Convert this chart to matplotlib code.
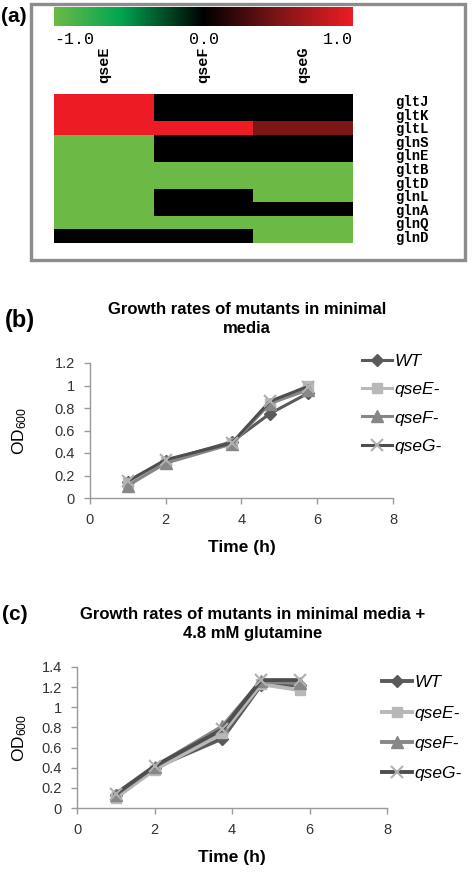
import matplotlib
matplotlib.use('Agg')
import matplotlib.pyplot as plt
import numpy as np
from matplotlib.colors import LinearSegmentedColormap
from matplotlib.patches import Rectangle
from matplotlib.cm import ScalarMappable
from matplotlib.colors import Normalize

plt.rcParams['font.family'] = 'Liberation Sans'
plt.rcParams['mathtext.fontset'] = 'custom'
plt.rcParams['mathtext.rm'] = 'Liberation Sans'
plt.rcParams['mathtext.default'] = 'regular'

W, H = 472, 877

# ---- data: panel (a) heatmap ----
genes = ['gltJ', 'gltK', 'gltL', 'glnS', 'glnE', 'gltB', 'gltD', 'glnL', 'glnA', 'glnQ', 'glnD']
mutants = ['qseE', 'qseF', 'qseG']
qseE_vals = [1, 1, 1, -1, -1, -1, -1, -1, -1, -1, 0]
qseF_vals = [0, 0, 1, 0, 0, -1, -1, 0, 0, -1, 0]
qseG_vals = [0, 0, 0.5, 0, 0, -1, -1, -1, 0, -1, -1]

# ---- data: panels (b) and (c) growth curves ----
time_h = [1, 2, 3.75, 4.75, 5.75]
series_names = ['WT', 'qseE-', 'qseF-', 'qseG-']
b_wt = [0.14, 0.33, 0.50, 0.75, 0.93]
b_qseE = [0.13, 0.32, 0.49, 0.84, 1.00]
b_qseF = [0.11, 0.31, 0.48, 0.84, 0.96]
b_qseG = [0.15, 0.34, 0.49, 0.86, 0.99]
c_wt = [0.13, 0.40, 0.69, 1.22, 1.22]
c_qseE = [0.10, 0.38, 0.74, 1.23, 1.17]
c_qseF = [0.13, 0.41, 0.81, 1.26, 1.24]
c_qseG = [0.14, 0.415, 0.78, 1.27, 1.27]

fig = plt.figure(figsize=(W / 100, H / 100), dpi=100)


def px_axes(x0, y0, x1, y1):
    return fig.add_axes([x0 / W, 1 - y1 / H, (x1 - x0) / W, (y1 - y0) / H])


# ============================================================
# (a) heatmap
# ============================================================
cmap = LinearSegmentedColormap.from_list(
    'gkr', [(0, '#6cb946'), (0.22, '#00a650'), (0.5, '#000000'),
            (0.75, '#7c1416'), (1, '#ed1c24')])

fig.patches.append(Rectangle((31 / W, 1 - 260 / H), (465 - 31) / W, (260 - 4) / H,
                             transform=fig.transFigure, fill=False,
                             edgecolor='#8c8c8c', linewidth=2.4))
fig.text(14 / W, 1 - 17 / H, '(a)', fontsize=15, fontweight='bold',
         ha='center', va='center')

# colour bar
cax = px_axes(54, 7, 353, 26)
cb = fig.colorbar(ScalarMappable(norm=Normalize(-1, 1), cmap=cmap), cax=cax,
                  orientation='horizontal', ticks=[-1, 0, 1])
cb.outline.set_visible(False)
cax.tick_params(length=0, pad=4)
cax.set_xticklabels(['-1.0', '0.0', '1.0'], family='Liberation Mono', fontsize=12)
labs = cax.get_xticklabels()
labs[0].set_ha('left')
labs[2].set_ha('right')

hax = px_axes(54, 94, 353, 243)
heat = np.array([qseE_vals, qseF_vals, qseG_vals]).T
hax.imshow(heat, cmap=cmap, vmin=-1, vmax=1, aspect='auto', interpolation='nearest')
for s in hax.spines.values():
    s.set_visible(False)
hax.xaxis.tick_top()
hax.set_xticks(range(len(mutants)))
hax.set_xticklabels(mutants, rotation=90, family='Liberation Mono',
                    fontweight='bold', fontsize=11)
hax.yaxis.tick_right()
hax.set_yticks(range(len(genes)))
hax.set_yticklabels(genes, family='Liberation Mono', fontweight='bold', fontsize=10)
hax.tick_params(length=0)
hax.tick_params(axis='x', pad=8)
hax.tick_params(axis='y', pad=30)


# ============================================================
# growth curve helper
# ============================================================
def growth_panel(box, ylim, ystep, data, leg_xy, lw, spacing):
    ax = px_axes(*box)
    styles = [
        dict(color='#5a5a5a', marker='D', ms=6, mfc='#5a5a5a', mec='#5a5a5a'),
        dict(color='#b8b8b8', marker='s', ms=7.5, mfc='#b8b8b8', mec='#b8b8b8'),
        dict(color='#878787', marker='^', ms=8.5, mfc='#878787', mec='#878787'),
        dict(color='#4e4e4e', marker='x', ms=8.5, mfc='#b0b0b0', mec='#b0b0b0', mew=1.5),
    ]
    for vals, name, st in zip(data, series_names, styles):
        ax.plot(time_h, vals, lw=lw, label=name, **st)
    ax.set_xlim(0, 8)
    ax.set_ylim(*ylim)
    ax.set_xticks([0, 2, 4, 6, 8])
    ticks = np.round(np.arange(0, ylim[1] + 1e-9, ystep), 1)
    ax.set_yticks(ticks)
    ax.set_yticklabels([f'{t:g}' for t in ticks])
    for side in ['top', 'right']:
        ax.spines[side].set_visible(False)
    for side in ['left', 'bottom']:
        ax.spines[side].set_color('#9a9a9a')
        ax.spines[side].set_linewidth(1.0)
    ax.tick_params(colors='#9a9a9a', labelcolor='#333333', labelsize=10.5,
                   length=4, width=1.0)
    ax.tick_params(axis='x', pad=7)
    ax.tick_params(axis='y', pad=7)
    ax.set_xlabel('Time (h)', fontsize=12.5, fontweight='bold', labelpad=9)
    ax.set_ylabel('OD$_{600}$', fontsize=12.5)
    ax.yaxis.set_label_coords((29 - box[0]) / (box[2] - box[0]), 0.5)
    ax.legend(loc='upper left', bbox_to_anchor=leg_xy, bbox_transform=fig.transFigure,
              frameon=False, prop=dict(style='italic', size=12.5),
              handlelength=1.75, handletextpad=0.1, labelspacing=spacing,
              borderpad=0, borderaxespad=0)
    return ax


# ============================================================
# (b)
# ============================================================
fig.text(20 / W, 1 - 320 / H, '(b)', fontsize=17, fontweight='bold',
         ha='center', va='center')
fig.text(247 / W, 1 - 319 / H, 'Growth rates of mutants in minimal\nmedia',
         fontsize=12, fontweight='bold', ha='center', va='center', linespacing=1.3)
growth_panel((90, 363, 393, 498), (0, 1.2), 0.2,
             [b_wt, b_qseE, b_qseF, b_qseG], (362 / W, 1 - 354 / H), 2.2, 0.75)

# ============================================================
# (c)
# ============================================================
fig.text(15 / W, 1 - 615 / H, '(c)', fontsize=15, fontweight='bold',
         ha='center', va='center')
fig.text(253 / W, 1 - 624 / H, 'Growth rates of mutants in minimal media +\n4.8 mM glutamine',
         fontsize=12, fontweight='bold', ha='center', va='center', linespacing=1.3)
growth_panel((77, 667, 387, 808), (0, 1.4), 0.2,
             [c_wt, c_qseE, c_qseF, c_qseG], (382 / W, 1 - 675 / H), 2.8, 0.88)

fig.savefig('out.png', dpi=100)
